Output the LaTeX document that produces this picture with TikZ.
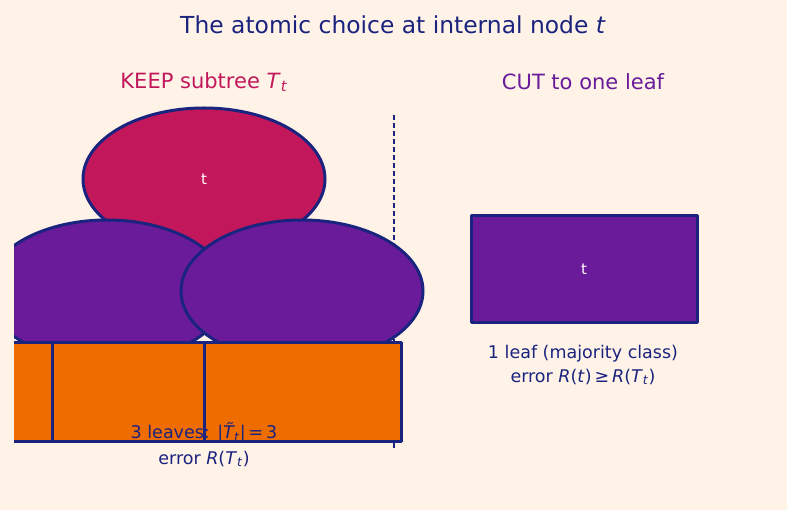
\documentclass[tikz,border=0pt]{standalone}
\usepackage{fontspec}
\setmainfont{DejaVu Sans}
\usetikzlibrary{shapes.geometric}
\definecolor{bgcream}{HTML}{FFF3E8}
\definecolor{navy}{HTML}{1A237E}
\definecolor{crimson}{HTML}{C2185B}
\definecolor{violet}{HTML}{6A1B9A}
\definecolor{leaforange}{HTML}{EF6C00}
\newcommand{\sym}[1]{\textit{#1}}
\tikzset{
  treenode/.style={ellipse, draw=navy, line width=3pt, inner sep=0pt,
    minimum width=242pt, minimum height=142pt, text=white, font=\fontsize{15}{18}\selectfont},
  leafbox/.style={rectangle, draw=navy, line width=3pt, inner sep=0pt, fill=leaforange,
    minimum height=98pt},
  caption/.style={text=navy, font=\fontsize{17.5}{21}\selectfont, inner sep=0pt}
}
\begin{document}
\begin{tikzpicture}[x=1pt, y=-1pt, line join=round]
  \fill[bgcream] (0,0) rectangle (787,510);
  \useasboundingbox (0,0) rectangle (787,510);

  % headings
  \node[text=navy, font=\fontsize{23.4}{28}\selectfont] (title) at (393,25)
    {The atomic choice at internal node \sym{t}};
  \node[text=crimson, font=\fontsize{21}{25}\selectfont] (keep) at (204,82)
    {KEEP subtree \sym{T}\textsubscript{\sym{t}}};
  \node[text=violet, font=\fontsize{21}{25}\selectfont] (cut) at (583,82)
    {CUT to one leaf};

  % divider
  \coordinate (divtop) at (394,115);
  \coordinate (divbot) at (394,450);
  \draw[navy, line width=1.5pt, dash pattern=on 5pt off 3pt] (divtop) -- (divbot);

  % kept subtree
  \begin{scope}
    \clip (14,0) rectangle (787,510);
    \node[treenode, fill=crimson] (root) at (204,179) {t};
    \node[treenode, fill=violet] (kidL) at (107,291) {};
    \node[treenode, fill=violet] (kidR) at (302,291) {};
    \node[leafbox, minimum width=72pt] (leafA) at (16,392) {};
    \node[leafbox, minimum width=152pt] (leafB) at (128,392) {};
    \node[leafbox, minimum width=197pt] (leafC) at (302.5,392) {};
  \end{scope}
  \node[caption] (keepA) at (204,433) {3 leaves: |\sym{T̃}\textsubscript{\sym{t}}|\,=\,3};
  \node[caption] (keepB) at (204,459) {error \sym{R}(\sym{T}\textsubscript{\sym{t}})};

  % collapsed leaf
  \node[rectangle, draw=navy, line width=3pt, fill=violet, inner sep=0pt,
    minimum width=226pt, minimum height=107pt, text=white,
    font=\fontsize{15}{18}\selectfont] (single) at (584,269.5) {t};
  \node[caption] (cutA) at (583,354) {1 leaf (majority class)};
  \node[caption] (cutB) at (583,377) {error \sym{R}(\sym{t})\,≥\,\sym{R}(\sym{T}\textsubscript{\sym{t}})};
\end{tikzpicture}
\end{document}
